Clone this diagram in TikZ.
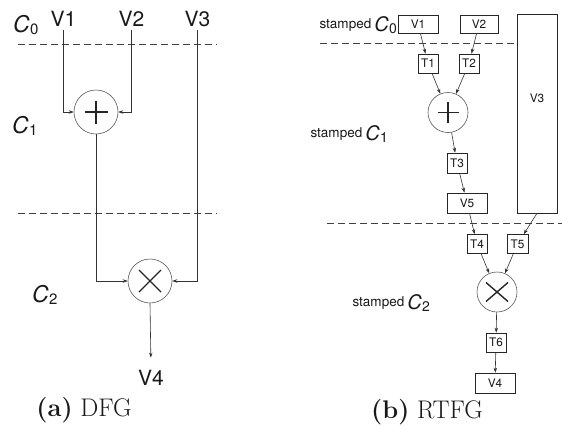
\documentclass[tikz,border=0pt]{standalone}
\usepackage{fontspec}
\newfontfamily\hv{TeX Gyre Heros}
\usetikzlibrary{arrows.meta}
\newcommand\CL[1]{{\fontsize{23}{23}\selectfont\itshape C}\kern0.3pt\raisebox{-2.5pt}{\fontsize{15}{15}\selectfont #1}}
\newcommand\CR[1]{{\fontsize{20}{20}\selectfont\itshape C}\kern0.3pt\raisebox{-2.5pt}{\fontsize{14}{14}\selectfont #1}}
\newcommand\stmp{\raisebox{3pt}{\fontsize{13.5}{13.5}\selectfont stamped}\hspace{3pt}}
\begin{document}
\begin{tikzpicture}[x=1pt,y=-1pt,
  ln/.style={draw=black!80, line width=0.6pt},
  arr/.style={ln, -{Stealth[length=5pt,width=3.5pt]}},
  dsh/.style={draw=black!75, line width=0.9pt, dash pattern=on 7pt off 4pt},
  vtxt/.style={font=\hv\fontsize{21}{21}\selectfont, text=black!90, inner sep=3pt},
  opL/.style={circle, draw=black!65, line width=0.6pt, minimum size=44pt, inner sep=0pt},
  opR/.style={circle, draw=black!65, line width=0.6pt, minimum size=40pt, inner sep=0pt},
  boxR/.style={rectangle, draw=black!85, line width=0.6pt, inner sep=0pt, text=black!90, font=\hv\fontsize{11.8}{11.8}\selectfont},
  clab/.style={font=\hv, inner sep=0pt, text=black!90},
  capt/.style={font=\fontsize{25.5}{25.5}\selectfont, inner sep=0pt, text=black!90},
  plussym/.style={path picture={\draw[line width=1.4pt,black!85]
      ([xshift=-#1]path picture bounding box.center) -- ([xshift=#1]path picture bounding box.center)
      ([yshift=-#1]path picture bounding box.center) -- ([yshift=#1]path picture bounding box.center);}},
  timesym/.style 2 args={path picture={\draw[line width=1.4pt,black!85]
      ([shift={(-#1,-#2)}]path picture bounding box.center) -- ([shift={(#1,#2)}]path picture bounding box.center)
      ([shift={(-#1,#2)}]path picture bounding box.center) -- ([shift={(#1,-#2)}]path picture bounding box.center);}},
]
\useasboundingbox (0,0) rectangle (562,429);

% ---------- (a) DFG ----------
\node[clab, anchor=base west] (C0L) at (13,32) {\CL{0}};
\node[clab, anchor=base west] (C1L) at (12,133) {\CL{1}};
\node[clab, anchor=base west] (C2L) at (32,302) {\CL{2}};

\node[vtxt] (V1L) at (63.5,19) {V1};
\node[vtxt] (V2L) at (131.5,19) {V2};
\node[vtxt] (V3L) at (197.5,19) {V3};

\coordinate (da1) at (18,44);  \coordinate (db1) at (217,44);
\coordinate (da2) at (18,213); \coordinate (db2) at (217,213);
\draw[dsh] (da1) -- (db1);
\draw[dsh] (da2) -- (db2);

\node[opL, plussym=11.5pt] (addL) at (96,112) {};
\node[opL, timesym={11pt}{11pt}] (mulL) at (150,281) {};
\node[vtxt] (V4L) at (151,378) {V4};

\draw[arr] (V1L.south) |- (addL.west);
\draw[arr] (V2L.south) |- (addL.east);
\draw[arr] (addL.south) |- (mulL.west);
\draw[arr] (V3L.south) |- (mulL.east);
\draw[arr, shorten >=9.5pt] (mulL.south) -- (V4L.north);

\node[capt, anchor=base] (capA) at (84,416) {\textbf{(a)} DFG};

% ---------- (b) RTFG ----------
\node[clab, anchor=base east] (S0) at (397,31) {\stmp\CR{0}};
\node[clab, anchor=base east] (S1) at (388,140) {\stmp\CR{1}};
\node[clab, anchor=base east] (S2) at (430,309) {\stmp\CR{2}};

\coordinate (ra1) at (320,43); \coordinate (rb1) at (562,43);
\coordinate (ra2) at (327,223); \coordinate (rb2) at (562,223);
\draw[dsh] (ra1) -- (rb1);
\draw[dsh] (ra2) -- (rb2);

\node[boxR, minimum width=40pt, minimum height=18pt] (V1R) at (418,24) {V1};
\node[boxR, minimum width=38pt, minimum height=18pt] (V2R) at (479,24) {V2};
\node[boxR, minimum width=40pt, minimum height=199pt, fill=white] (V3R) at (537,113.5) {};
\node[font=\hv\fontsize{11.8}{11.8}\selectfont, text=black!90, inner sep=0pt] (V3Rt) at (537,98) {V3};
\node[boxR, minimum width=20pt, minimum height=19pt] (T1) at (428,63.5) {T1};
\node[boxR, minimum width=20pt, minimum height=19pt] (T2) at (469,63.5) {T2};
\node[opR, plussym=10.5pt] (addR) at (448,112.5) {};
\node[boxR, minimum width=20pt, minimum height=20pt] (T3) at (457,163) {T3};
\node[boxR, minimum width=40pt, minimum height=20pt] (V5) at (467,203) {V5};
\node[boxR, minimum width=20pt, minimum height=19pt] (T4) at (477,244) {T4};
\node[boxR, minimum width=21pt, minimum height=19pt] (T5) at (517.5,244) {T5};
\node[opR, timesym={11pt}{9.5pt}] (mulR) at (497,292) {};
\node[boxR, minimum width=20pt, minimum height=19pt] (T6) at (496,342.5) {T6};
\node[boxR, minimum width=40pt, minimum height=20pt] (V4R) at (495,383) {V4};

\draw[arr] (V1R) -- (T1);
\draw[arr] (V2R) -- (T2);
\draw[arr] (T1) -- (addR);
\draw[arr] (T2) -- (addR);
\draw[arr] (addR) -- (T3);
\draw[arr] (T3) -- (V5);
\draw[arr] (V5) -- (T4);
\draw[arr] (V3R.south) -- (T5);
\draw[arr] (T4) -- (mulR);
\draw[arr] (T5) -- (mulR);
\draw[arr] (mulR) -- (T6);
\draw[arr] (T6) -- (V4R);

\node[capt, anchor=base] (capB) at (427,418) {\textbf{(b)} RTFG};
\end{tikzpicture}
\end{document}
